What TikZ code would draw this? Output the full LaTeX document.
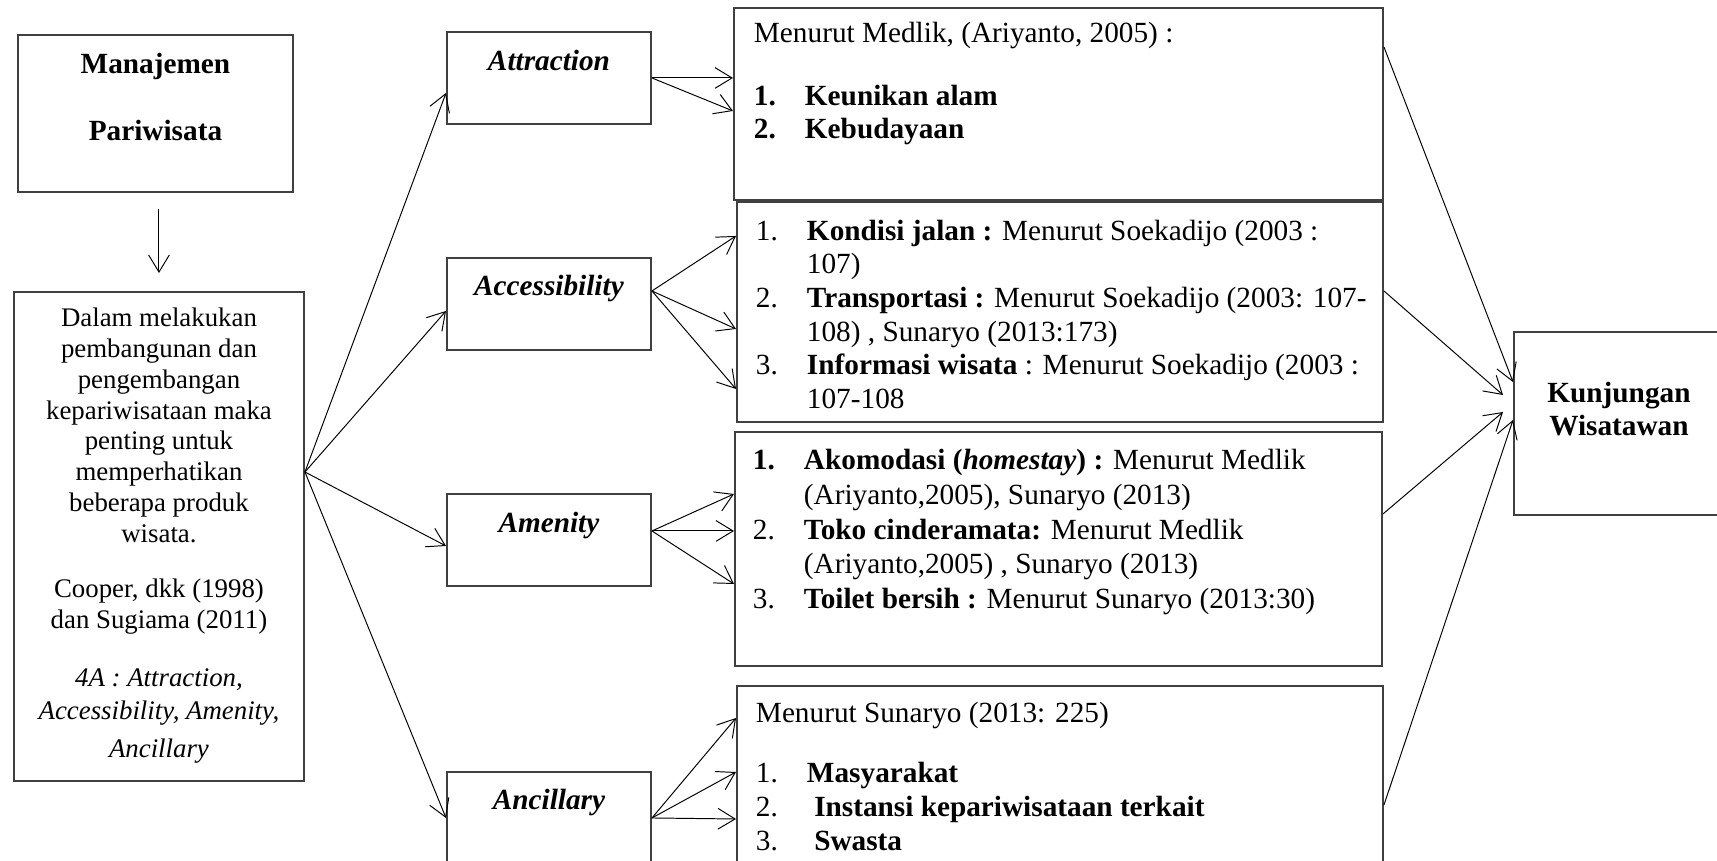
\documentclass[tikz,border=0pt]{standalone}
\usepackage{fontspec}
\setmainfont{Liberation Serif}
\usetikzlibrary{arrows.meta}
\usetikzlibrary{calc}
\newlength{\pxu}
\setlength{\pxu}{0.41pt}
\newcommand{\itemno}[1]{\makebox[51\pxu][l]{#1}}
\newcommand{\contline}{\hspace*{51\pxu}}
\tikzset{>={Straight Barb[length=7pt,width=8.5pt]}, line width=0.8pt}
\tikzset{frame/.style={draw=black!75, line width=0.8pt, inner sep=0pt,
    anchor=north west, font=\fontsize{12}{13.8}\selectfont}}

\begin{document}
\begin{tikzpicture}[x=0.41pt, y=-0.41pt]
  \path[use as bounding box, fill=white] (0,0) rectangle (1717,861);

  % Manajemen Pariwisata
  \node[frame] (man) at (17,34)
    {\parbox[c][157\pxu][t]{275\pxu}{\centering\vspace*{18\pxu}%
      \textbf{Manajemen}\\[13.8pt]\textbf{Pariwisata}}};
  % produk wisata
  \node[frame,font=\fontsize{11}{12.65}\selectfont] (dalam) at (13,291)
    {\parbox[c][489\pxu][t]{290\pxu}{\centering\vspace*{16\pxu}%
      Dalam melakukan\\ pembangunan dan\\ pengembangan\\ kepariwisataan maka\\
      penting untuk\\ memperhatikan\\ beberapa produk\\ wisata.\\[10pt]
      Cooper, dkk (1998)\\ dan Sugiama (2011)\\[11pt]
      \textit{4A : Attraction,}\\[1pt] \textit{Accessibility, Amenity,}\\[3pt]
      \textit{Ancillary}}};
  \draw[->,shorten <=16\pxu,shorten >=18\pxu] (dalam.north |- man.south) -- (dalam.north);

  % 4A
  \node[frame] (attr) at (446,31)
    {\parbox[c][92\pxu][t]{204\pxu}{\centering\vspace*{18\pxu}\textbf{\textit{Attraction}}}};
  \node[frame] (acc) at (446,257)
    {\parbox[c][92\pxu][t]{204\pxu}{\centering\vspace*{17\pxu}\textbf{\textit{Accessibility}}}};
  \node[frame] (amen) at (446,493)
    {\parbox[c][92\pxu][t]{204\pxu}{\centering\vspace*{18\pxu}\textbf{\textit{Amenity}}}};
  \node[frame] (anc) at (446,771)
    {\parbox[c][92\pxu][t]{204\pxu}{\centering\vspace*{17\pxu}\textbf{\textit{Ancillary}}}};

  \coordinate (fan) at ($(dalam.north east)+(0,181)$);
  \draw[->] (fan) -- ($(attr.west)+(0,15)$);
  \draw[->] (fan) -- ($(acc.west)+(0,7)$);
  \draw[->] (fan) -- ($(amen.west)+(0,6)$);
  \draw[->] (fan) -- (anc.west);

  % Attraction
  \node[frame] (medlik) at (733,7)
    {\parbox[c][192\pxu][t]{649\pxu}{\leftskip=20\pxu\vspace*{14\pxu}%
      Menurut Medlik, (Ariyanto, 2005) :\\[12pt]
      \textbf{\itemno{1.}Keunikan alam}\\
      \textbf{\itemno{2.}Kebudayaan}}};
  \draw[->] (attr.east) -- (attr.east -| medlik.west);
  \draw[->] (attr.east) -- ($(medlik.west)+(0,7)$);

  % Accessibility
  \node[frame] (soek) at (736,201)
    {\parbox[c][220\pxu][t]{646\pxu}{\leftskip=19\pxu\vspace*{18\pxu}%
      \itemno{1.}\textbf{Kondisi jalan :} Menurut Soekadijo (2003 :\\
      \contline 107)\\
      \itemno{2.}\textbf{Transportasi :} Menurut Soekadijo (2003: 107-\\
      \contline 108) , Sunaryo (2013:173)\\
      \itemno{3.}\textbf{Informasi wisata} : Menurut Soekadijo (2003 :\\
      \contline 107-108}};
  \coordinate (accout) at ($(acc.east)+(0,-13)$);
  \draw[->] (accout) -- ($(soek.west)+(0,-76)$);
  \draw[->] (accout) -- ($(soek.west)+(0,17)$);
  \draw[->] (accout) -- ($(soek.west)+(0,77)$);

  % Amenity
  \node[frame,font=\fontsize{12}{14.3}\selectfont] (amlist) at (734,431)
    {\parbox[c][234\pxu][t]{647\pxu}{\leftskip=18\pxu\vspace*{17\pxu}%
      \textbf{\itemno{1.}Akomodasi (\textit{homestay}) :} Menurut Medlik\\
      \contline (Ariyanto,2005), Sunaryo (2013)\\
      \itemno{2.}\textbf{Toko cinderamata:} Menurut Medlik\\
      \contline (Ariyanto,2005) , Sunaryo (2013)\\
      \itemno{3.}\textbf{Toilet bersih :} Menurut Sunaryo (2013:30)}};
  \coordinate (amenout) at ($(amen.east)+(0,-9)$);
  \draw[->] (amenout) -- ($(amlist.west)+(0,-55)$);
  \draw[->] (amenout) -- ($(amlist.west)+(0,-18)$);
  \draw[->] (amenout) -- ($(amlist.west)+(0,35)$);

  % Ancillary
  \node[frame] (sun) at (736,685)
    {\parbox[c][180\pxu][t]{646\pxu}{\leftskip=19\pxu\vspace*{16\pxu}%
      Menurut Sunaryo (2013: 225)\\[11pt]
      \itemno{1.}\textbf{Masyarakat}\\
      \itemno{2.}\textbf{\ Instansi kepariwisataan terkait}\\
      \itemno{3.}\textbf{\ Swasta}}};
  \draw[->] (anc.east) -- ($(sun.north west)+(0,33)$);
  \draw[->] (anc.east) -- ($(sun.north west)+(0,87)$);
  \draw[->] (anc.east) -- ($(sun.north west)+(0,134)$);

  % Kunjungan Wisatawan
  \node[frame] (kunj) at (1513,331)
    {\parbox[c][183\pxu][t]{210\pxu}{\centering\vspace*{50\pxu}%
      \textbf{Kunjungan}\\\textbf{Wisatawan}}};
  \draw[->] ($(medlik.north east)+(0,40)$) -- ($(kunj.north west)+(0,51)$);
  \draw[->] ($(soek.east)+(0,-21)$) -- ($(kunj.north west)+(-10,64)$);
  \draw[->] ($(amlist.east)+(0,-35)$) -- ($(kunj.north west)+(-10,81)$);
  \draw[->] ($(sun.north east)+(0,120)$) -- ($(kunj.north west)+(0,89)$);
\end{tikzpicture}
\end{document}
